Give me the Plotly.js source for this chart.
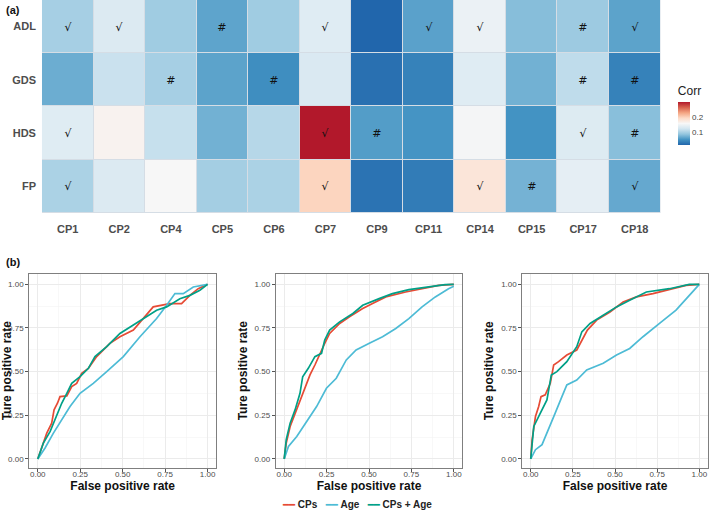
<!DOCTYPE html>
<html>
<head>
<meta charset="utf-8">
<script src="https://cdn.plot.ly/plotly-3.0.1.min.js"></script>
<style>
  html, body { margin: 0; padding: 0; background: #fff; }
  #chart { width: 709px; height: 510px; }
</style>
</head>
<body>
<div id="chart"></div>
<script>
  // ---- panel (a): correlation heatmap ----
  const cpNames = ["CP1", "CP2", "CP4", "CP5", "CP6", "CP7", "CP9", "CP11", "CP14", "CP15", "CP17", "CP18"];
  const outcomes = ["ADL", "GDS", "HDS", "FP"];

  const corrADL = [0.096, 0.130, 0.093, 0.062, 0.093, 0.133, 0.015, 0.060, 0.144, 0.080, 0.091, 0.061];
  const corrGDS = [0.068, 0.116, 0.096, 0.061, 0.046, 0.128, 0.023, 0.037, 0.133, 0.071, 0.110, 0.037];
  const corrHDS = [0.133, 0.161, 0.114, 0.071, 0.105, 0.295, 0.057, 0.051, 0.152, 0.050, 0.131, 0.081];
  const corrFP  = [0.099, 0.130, 0.155, 0.095, 0.099, 0.194, 0.025, 0.032, 0.177, 0.072, 0.138, 0.065];

  const markADL = ["√", "√", "", "#", "", "√", "", "√", "√", "", "#", "√"];
  const markGDS = ["", "", "#", "", "#", "", "", "", "", "", "#", "#"];
  const markHDS = ["√", "", "", "", "", "√", "#", "", "", "", "√", "#"];
  const markFP  = ["√", "", "", "", "", "√", "", "", "√", "#", "", "√"];

  const corrTicks = [0.1, 0.2];

  // ---- panel (b): ROC curves, [fpr, tpr] pairs ----
  const rocCps1 = [[0,0],[0.024,0.072],[0.053,0.148],[0.082,0.205],[0.096,0.281],[0.116,0.319],[0.131,0.357],[0.171,0.361],[0.2,0.414],[0.229,0.433],[0.259,0.49],[0.298,0.519],[0.347,0.586],[0.425,0.662],[0.484,0.7],[0.563,0.738],[0.612,0.795],[0.68,0.871],[0.778,0.89],[0.847,0.89],[0.896,0.937],[0.945,0.975],[1,1]];
  const rocAge1 = [[0,0],[0.043,0.063],[0.092,0.148],[0.141,0.224],[0.19,0.3],[0.249,0.376],[0.327,0.433],[0.406,0.5],[0.504,0.586],[0.602,0.7],[0.7,0.804],[0.759,0.88],[0.808,0.947],[0.857,0.947],[0.916,0.985],[1,1]];
  const rocBoth1 = [[0,0],[0.033,0.091],[0.073,0.158],[0.102,0.224],[0.141,0.319],[0.171,0.376],[0.2,0.433],[0.249,0.471],[0.298,0.519],[0.337,0.586],[0.406,0.643],[0.484,0.719],[0.563,0.766],[0.622,0.804],[0.7,0.852],[0.759,0.871],[0.837,0.918],[0.896,0.937],[0.955,0.966],[1,1]];

  const rocCps2 = [[0,0],[0.012,0.091],[0.035,0.186],[0.064,0.262],[0.093,0.338],[0.123,0.414],[0.152,0.481],[0.181,0.538],[0.21,0.605],[0.239,0.662],[0.268,0.719],[0.327,0.776],[0.385,0.814],[0.463,0.861],[0.521,0.89],[0.599,0.928],[0.716,0.956],[0.813,0.975],[0.911,0.994],[1,1]];
  const rocAge2 = [[0,0],[0.025,0.072],[0.074,0.129],[0.132,0.215],[0.191,0.3],[0.249,0.405],[0.307,0.462],[0.366,0.567],[0.424,0.624],[0.502,0.662],[0.58,0.7],[0.658,0.747],[0.735,0.804],[0.813,0.871],[0.891,0.928],[0.969,0.975],[1,0.989]];
  const rocBoth2 = [[0,0],[0.012,0.11],[0.035,0.205],[0.064,0.281],[0.093,0.376],[0.109,0.471],[0.142,0.519],[0.181,0.586],[0.22,0.605],[0.239,0.681],[0.268,0.738],[0.327,0.785],[0.405,0.833],[0.463,0.88],[0.56,0.918],[0.638,0.947],[0.735,0.97],[0.852,0.985],[0.949,0.998],[1,1]];

  const rocCps3 = [[0,0],[0.008,0.11],[0.028,0.243],[0.047,0.3],[0.061,0.357],[0.086,0.367],[0.116,0.433],[0.136,0.538],[0.165,0.557],[0.214,0.595],[0.273,0.624],[0.303,0.681],[0.336,0.738],[0.391,0.795],[0.47,0.842],[0.548,0.899],[0.627,0.928],[0.725,0.947],[0.823,0.97],[0.921,0.994],[1,1]];
  const rocAge3 = [[0,0],[0.028,0.053],[0.067,0.082],[0.106,0.167],[0.145,0.262],[0.185,0.357],[0.214,0.424],[0.273,0.452],[0.332,0.51],[0.43,0.548],[0.509,0.595],[0.587,0.633],[0.666,0.7],[0.764,0.776],[0.862,0.852],[0.941,0.937],[1,1]];
  const rocBoth3 = [[0,0],[0.018,0.186],[0.057,0.262],[0.096,0.338],[0.122,0.481],[0.155,0.5],[0.214,0.557],[0.273,0.643],[0.303,0.728],[0.352,0.776],[0.43,0.823],[0.509,0.871],[0.587,0.909],[0.686,0.956],[0.823,0.975],[0.941,1],[1,1]];

  const rocTicks = [0, 0.25, 0.5, 0.75, 1];
  const rocTickText = ["0.00", "0.25", "0.50", "0.75", "1.00"];

  const seriesNames = ["CPs", "Age", "CPs + Age"];
  const seriesColors = ["#E64B35", "#4DBBD5", "#00A087"];

  const FONT = "Liberation Sans, Arial, Helvetica, sans-serif";

  const rdbu = [
    [0, "#2166ac"], [0.125, "#4393c3"], [0.25, "#92c5de"], [0.375, "#d1e5f0"],
    [0.5, "#f7f7f7"], [0.625, "#fddbc7"], [0.75, "#f4a582"], [0.875, "#d6604d"], [1, "#b2182b"]
  ];

  const heat = {
    type: "heatmap",
    x: cpNames,
    y: outcomes,
    z: [corrADL, corrGDS, corrHDS, corrFP],
    text: [markADL, markGDS, markHDS, markFP],
    texttemplate: "%{text}",
    textfont: { family: "DejaVu Sans, sans-serif", size: 11, color: "#111" },
    colorscale: rdbu,
    zmin: 0.015,
    zmax: 0.295,
    xgap: 1,
    ygap: 1,
    xaxis: "x",
    yaxis: "y",
    hoverinfo: "skip",
    colorbar: {
      title: { text: "Corr", side: "top", font: { family: FONT, size: 12, color: "#222" } },
      thickness: 12,
      len: 62,
      lenmode: "pixels",
      x: 0.956,
      xanchor: "left",
      y: 0.776,
      yanchor: "middle",
      outlinewidth: 0,
      tickvals: corrTicks,
      ticks: "",
      tickfont: { family: FONT, size: 8, color: "#444" },
      xpad: 0,
      ypad: 0
    }
  };

  const panels = [
    [rocCps1, rocAge1, rocBoth1],
    [rocCps2, rocAge2, rocBoth2],
    [rocCps3, rocAge3, rocBoth3]
  ];

  const traces = [heat];
  panels.forEach((curves, p) => {
    curves.forEach((pts, s) => {
      traces.push({
        type: "scatter",
        mode: "lines",
        x: pts.map((d) => d[0]),
        y: pts.map((d) => d[1]),
        name: seriesNames[s],
        line: { color: seriesColors[s], width: 1.7 },
        xaxis: "x" + (p + 2),
        yaxis: "y" + (p + 2),
        showlegend: false,
        hoverinfo: "skip"
      });
    });
  });

  function rocX(domain, anchor) {
    return {
      domain,
      anchor,
      range: [-0.05, 1.05],
      tickvals: rocTicks,
      ticktext: rocTickText,
      tickfont: { family: FONT, size: 8, color: "#4d4d4d" },
      ticks: "outside",
      ticklen: 3,
      tickcolor: "#555",
      ticklabelstandoff: -4,
      showgrid: true,
      gridcolor: "#ebebeb",
      minor: { tick0: 0.125, dtick: 0.25, showgrid: true, gridcolor: "#f4f4f4", gridwidth: 0.6 },
      zeroline: false,
      showline: true,
      mirror: true,
      linecolor: "#7f7f7f",
      linewidth: 1,
      title: { text: "<b>False positive rate</b>", font: { family: FONT, size: 12, color: "#111" }, standoff: 0 }
    };
  }

  function rocY(anchor) {
    return {
      domain: [0.083, 0.463],
      anchor,
      range: [-0.05, 1.06],
      tickvals: rocTicks,
      ticktext: rocTickText,
      tickfont: { family: FONT, size: 8, color: "#4d4d4d" },
      ticks: "outside",
      ticklen: 3,
      tickcolor: "#555",
      showgrid: true,
      gridcolor: "#ebebeb",
      minor: { tick0: 0.125, dtick: 0.25, showgrid: true, gridcolor: "#f4f4f4", gridwidth: 0.6 },
      zeroline: false,
      showline: true,
      mirror: true,
      linecolor: "#7f7f7f",
      linewidth: 1,
      title: { text: "<b>Ture positive rate</b>", font: { family: FONT, size: 12, color: "#111" }, standoff: 4 }
    };
  }

  // compact ggplot-style legend under the middle panel
  const legendText = seriesNames
    .map((n, i) => `<span style="color:${seriesColors[i]}">━━</span> <b>${n}</b>`)
    .join("   ");

  const layout = {
    width: 709,
    height: 510,
    margin: { l: 0, r: 0, t: 0, b: 0 },
    paper_bgcolor: "#fff",
    plot_bgcolor: "#fff",
    font: { family: FONT },
    xaxis: {
      domain: [0.0592, 0.9316],
      anchor: "y",
      tickfont: { family: FONT, size: 11, color: "#4d4d4d", weight: "bold" },
      ticks: "",
      ticklabelstandoff: 8,
      showgrid: false,
      zeroline: false
    },
    yaxis: {
      domain: [0.5824, 1],
      anchor: "x",
      autorange: "reversed",
      tickfont: { family: FONT, size: 11, color: "#4d4d4d", weight: "bold" },
      ticks: "",
      ticklabelstandoff: 5,
      showgrid: false,
      zeroline: false
    },
    xaxis2: rocX([0.0413, 0.3047], "y2"),
    yaxis2: rocY("x2"),
    xaxis3: rocX([0.3889, 0.652], "y3"),
    yaxis3: rocY("x3"),
    xaxis4: rocX([0.7367, 0.9982], "y4"),
    yaxis4: rocY("x4"),
    showlegend: false,
    shapes: [
      // tile border colour behind the heatmap gaps
      { type: "rect", xref: "x domain", yref: "y domain", x0: 0, x1: 1, y0: 0, y1: 1, layer: "below", line: { width: 0 }, fillcolor: "#d5dde5" }
    ],
    annotations: [
      { text: "<b>(a)</b>", xref: "paper", yref: "paper", x: 0.005, y: 1 - 10 / 510, xanchor: "left", yanchor: "middle", showarrow: false, font: { family: FONT, size: 11, color: "#111" } },
      { text: "<b>(b)</b>", xref: "paper", yref: "paper", x: 0.005, y: 1 - 262 / 510, xanchor: "left", yanchor: "middle", showarrow: false, font: { family: FONT, size: 11, color: "#111" } },
      { text: legendText, xref: "paper", yref: "paper", x: 0.503, y: 1 - 504 / 510, xanchor: "center", yanchor: "middle", showarrow: false, font: { family: "Liberation Sans, DejaVu Sans, sans-serif", size: 10, color: "#222" } }
    ]
  };

  Plotly.newPlot("chart", traces, layout, { displayModeBar: false, staticPlot: true });
</script>
</body>
</html>
